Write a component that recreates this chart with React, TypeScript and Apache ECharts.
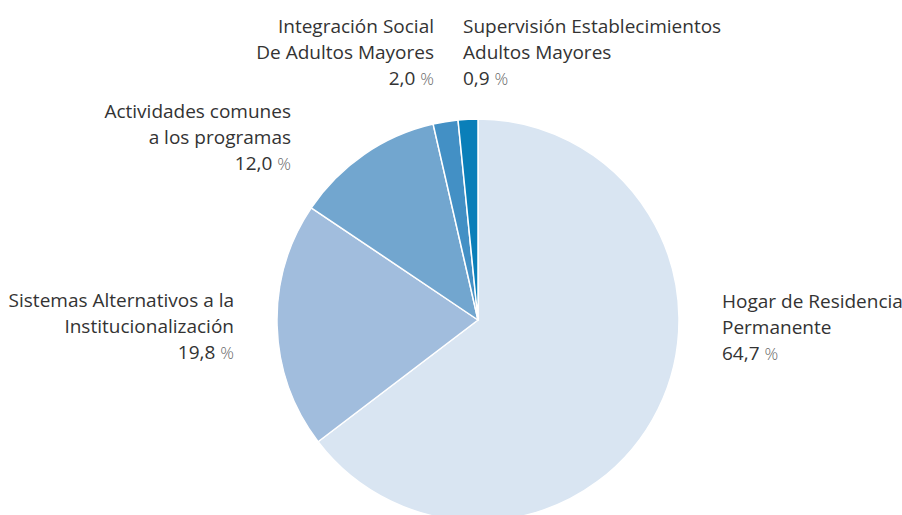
import React, { useEffect, useRef } from "react";
import * as echarts from "echarts";

const categories = [
  "Hogar de Residencia\nPermanente",
  "Sistemas Alternativos a la\nInstitucionalización",
  "Actividades comunes\na los programas",
  "Integración Social\nDe Adultos Mayores",
  "Supervisión Establecimientos\nAdultos Mayores",
];
const values = [64.7, 19.8, 12.0, 2.0, 0.9];
const colors = ["#d9e5f2", "#a1bddd", "#72a6cf", "#4390c5", "#0a7fb9"];

// label anchors (pixel layout, not data)
const labelAnchors = [
  { x: 722, y: 288, align: "left" },
  { x: 234, y: 287, align: "right" },
  { x: 291, y: 98, align: "right" },
  { x: 434, y: 13, align: "right" },
  { x: 463, y: 13, align: "left" },
];

const FONT = "Open Sans";
const FS = 19;

export default function App() {
  const ref = useRef<HTMLDivElement>(null);
  useEffect(() => {
    if (!ref.current) return;
    const chart = echarts.init(ref.current, null, { renderer: "svg" });
    chart.setOption({
      animation: false,
      backgroundColor: "#ffffff",
      series: [
        {
          type: "pie",
          center: [478, 320],
          radius: 201,
          startAngle: 90,
          clockwise: true,
          minAngle: 5.7,
          avoidLabelOverlap: false,
          itemStyle: { borderColor: "#ffffff", borderWidth: 1.5 },
          label: {
            show: true,
            position: "outside",
            fontFamily: FONT,
            fontSize: FS,
            color: "#333333",
            lineHeight: 26,
            formatter: (p: any) =>
              `{n|${p.name}}\n{v|${p.value.toFixed(1).replace(".", ",")} }{pc|%}`,
            rich: {
              n: { fontFamily: FONT, fontSize: FS, color: "#333333", lineHeight: 26 },
              v: { fontFamily: FONT, fontSize: FS, color: "#333333", lineHeight: 26 },
              pc: { fontFamily: FONT, fontSize: 17, fontWeight: 300, color: "#6a6a6a", lineHeight: 26 },
            },
          },
          labelLine: { show: false },
          emphasis: { disabled: true },
          labelLayout: (params: any) => {
            const a = labelAnchors[params.dataIndex];
            return { x: a.x, y: a.y, align: a.align, verticalAlign: "top" };
          },
          data: categories.map((name, i) => ({
            name,
            value: values[i],
            itemStyle: { color: colors[i] },
          })),
        },
      ],
    });
    return () => chart.dispose();
  }, []);
  return (
    <div
      ref={ref}
      style={{ position: "absolute", left: 0, top: 0, width: 902, height: 515 }}
    />
  );
}
